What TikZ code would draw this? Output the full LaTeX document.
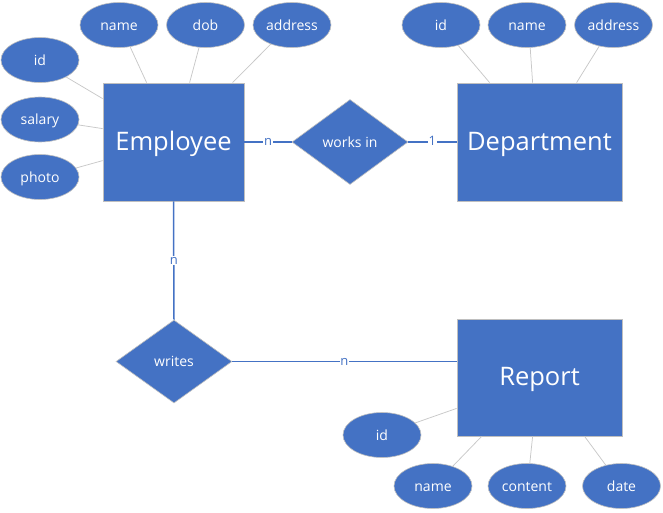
\documentclass[tikz,border=0pt]{standalone}
\usepackage{fontspec}
\setmainfont{Open Sans}
\usetikzlibrary{shapes.geometric,calc}
\definecolor{erblue}{HTML}{4472C4}
\definecolor{edgegray}{HTML}{BFBFBF}
\definecolor{attrline}{HTML}{C8C8C8}
\tikzset{
  entity/.style={rectangle,fill=erblue,draw=edgegray,line width=0.8pt,text=white,inner sep=0pt,font=\fontsize{25.5}{30}\selectfont,text height=16pt,text depth=0pt},
  attrib/.style={ellipse,fill=erblue,draw=edgegray,line width=0.6pt,text=white,inner sep=0pt,minimum width=78pt,minimum height=45pt,font=\fontsize{14}{16}\selectfont,text height=10pt,text depth=0pt},
  relship/.style={diamond,fill=erblue,draw=edgegray,line width=0.6pt,text=white,inner sep=0pt,minimum width=116pt,minimum height=84pt,font=\fontsize{14}{16}\selectfont,text height=10pt,text depth=0pt},
  attrlink/.style={draw=attrline,line width=0.75pt},
  rellink/.style={draw=erblue,line width=1.5pt},
  card/.style={fill=white,text=erblue,inner sep=0.8pt,font=\fontsize{13}{14}\selectfont,text height=7.5pt,text depth=0pt}
}
\begin{document}
\begin{tikzpicture}[x=1pt,y=-1pt]
\useasboundingbox (0,0) rectangle (663,512);
% entities
\node[entity,minimum width=141pt,minimum height=118pt] (emp) at (173.5,142) {Employee};
\node[entity,minimum width=165pt,minimum height=118pt] (dept) at (539.5,142) {Department};
\node[entity,minimum width=165pt,minimum height=117pt] (rep) at (539.5,377.5) {Report};
% relationships
\node[relship,minimum height=85pt] (works) at (350,142) {works in};
\node[relship,minimum height=83pt] (writes) at (174,361.5) {writes};
% employee attributes
\node[attrib] (ename) at (119,25) {name};
\node[attrib] (edob) at (205.5,25) {dob};
\node[attrib] (eaddr) at (292,25) {address};
\node[attrib] (eid) at (40,60) {id};
\node[attrib] (esal) at (40,119.5) {salary};
\node[attrib] (ephoto) at (40,177) {photo};
% department attributes
\node[attrib] (did) at (441,25) {id};
\node[attrib] (dname) at (527,25) {name};
\node[attrib] (daddr) at (613.5,25) {address};
% report attributes
\node[attrib] (rid) at (382,435) {id};
\node[attrib] (rname) at (433,486) {name};
\node[attrib] (rcont) at (527,486) {content};
\node[attrib] (rdate) at (621.5,486) {date};
% attribute links
\draw[attrlink] (ename.-63) -- ([xshift=44pt]emp.north west);
\draw[attrlink] (edob.-106) -- ([xshift=87pt]emp.north west);
\draw[attrlink] (eaddr.-138) -- ([xshift=130pt]emp.north west);
\draw[attrlink] (eid.-33) -- ([yshift=-16pt]emp.north west);
\draw[attrlink] (esal.-8) -- ([yshift=-46pt]emp.north west);
\draw[attrlink] (ephoto.14) -- ([yshift=-78pt]emp.north west);
\draw[attrlink] (did.-50) -- ([xshift=33pt]dept.north west);
\draw[attrlink] (dname.-82) -- ([xshift=76pt]dept.north west);
\draw[attrlink] (daddr.-124) -- ([xshift=120pt]dept.north west);
\draw[attrlink] (rid.20) -- ([yshift=28pt]rep.south west);
\draw[attrlink] (rname.45) -- ([xshift=25pt]rep.south west);
\draw[attrlink] (rcont.83) -- ([xshift=76pt]rep.south west);
\draw[attrlink] (rdate.127) -- ([xshift=128pt]rep.south west);
% relationship links
\draw[rellink] (emp.east) -- node[card] {n} (works.west);
\draw[rellink] (works.east) -- node[card] {1} (dept.west);
\draw[rellink] (emp.south) -- node[card] {n} (writes.north);
\draw[rellink] (writes.east) -- node[card] {n} (writes.east -| rep.west);
\end{tikzpicture}
\end{document}
